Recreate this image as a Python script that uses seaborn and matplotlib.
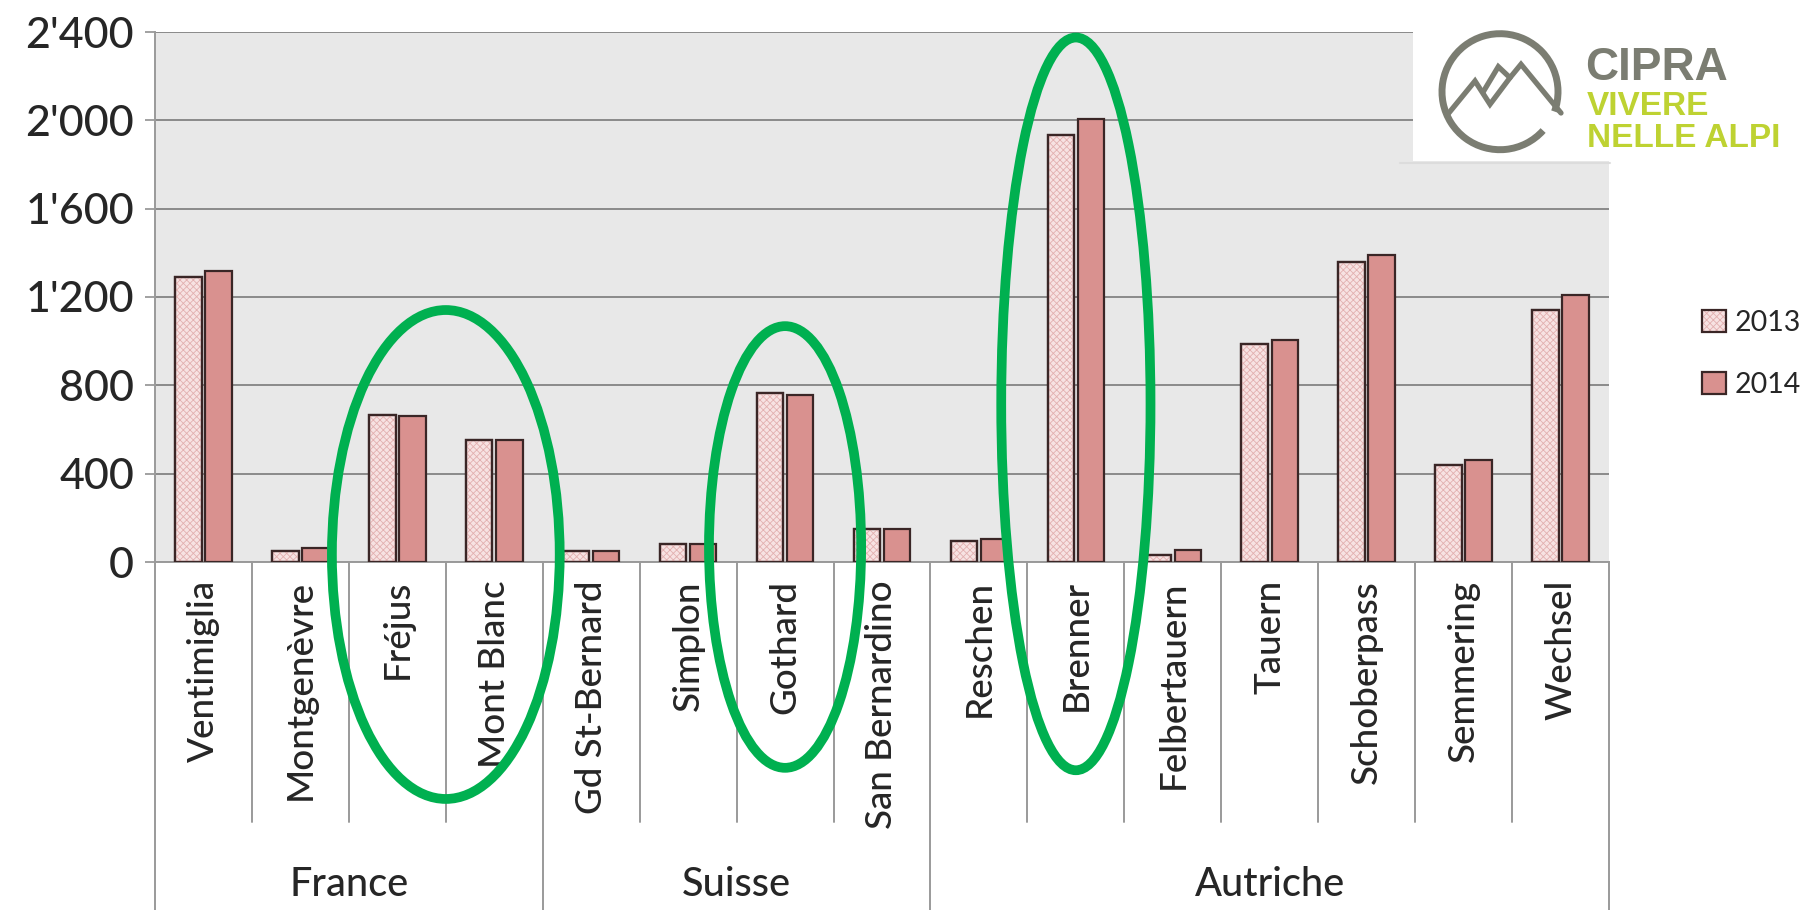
import numpy as np
import pandas as pd
import matplotlib
matplotlib.use("Agg")
import matplotlib.pyplot as plt
import seaborn as sns
from matplotlib.patches import Rectangle, Ellipse, Arc, Patch
from matplotlib.lines import Line2D
from matplotlib.legend_handler import HandlerTuple
from matplotlib.ticker import FuncFormatter
from matplotlib.colors import to_rgb

# ---- data -------------------------------------------------------------
passes = ["Ventimiglia", "Montgenèvre", "Fréjus", "Mont Blanc",
          "Gd St-Bernard", "Simplon", "Gothard", "San Bernardino",
          "Reschen", "Brenner", "Felbertauern", "Tauern", "Schoberpass",
          "Semmering", "Wechsel"]
countries = ["France", "Suisse", "Autriche"]
passes_per_country = [4, 4, 7]
years = ["2013", "2014"]
values_2013 = [1290, 50, 664, 553, 52, 81, 765, 151, 95, 1935, 32, 989, 1358, 441, 1143]
values_2014 = [1320, 62, 661, 553, 52, 81, 755, 151, 106, 2006, 53, 1007, 1389, 463, 1211]
y_ticks = [0, 400, 800, 1200, 1600, 2000, 2400]
highlighted = [["Fréjus", "Mont Blanc"], ["Gothard"], ["Brenner"]]

# ---- style ------------------------------------------------------------
sns.set_style("white")
plt.rcParams["font.family"] = ["Lato", "DejaVu Sans"]
plt.rcParams["hatch.linewidth"] = 0.6

C13 = "#f7e2e2"
C14 = "#d9918f"
HATCH = "#e2b0b0"
EDGE = "#3a2626"
AXIS_GREY = "#9a9a9a"
GRID_GREY = "#8a8a8a"
TEXT = "#262626"
GREEN = "#00b050"

W, H = 1802, 910
fig = plt.figure(figsize=(W / 100, H / 100), dpi=100)
ax_left, ax_right, ax_top, ax_base = 155, 1609, 32, 562
ax = fig.add_axes([ax_left / W, 1 - ax_base / H,
                   (ax_right - ax_left) / W, (ax_base - ax_top) / H])

df = pd.DataFrame({
    "Passage": passes * 2,
    "Année": [years[0]] * len(passes) + [years[1]] * len(passes),
    "Camions": values_2013 + values_2014,
})

sns.barplot(data=df, x="Passage", y="Camions", hue="Année",
            order=passes, hue_order=years, palette=[C13, C14],
            saturation=1, width=0.62, gap=0.12, errorbar=None,
            edgecolor=EDGE, linewidth=1.6, legend=False, ax=ax, zorder=3)

# dotted pattern on the 2013 bars, outline redrawn on top
for bar in list(ax.patches):
    if np.allclose(bar.get_facecolor()[:3], to_rgb(C13), atol=0.01):
        x, y = bar.get_xy()
        w, h = bar.get_width(), bar.get_height()
        ax.add_patch(Rectangle((x, y), w, h, fill=False, hatch="xxxxx",
                               edgecolor=HATCH, lw=0, zorder=3.5))
        ax.add_patch(Rectangle((x, y), w, h, fill=False,
                               edgecolor=EDGE, lw=1.6, zorder=3.6))

# ---- axes -------------------------------------------------------------
ax.set_facecolor("#e8e8e8")
ax.set_xlim(-0.5, len(passes) - 0.5)
ax.set_ylim(y_ticks[0], y_ticks[-1])
ax.set_yticks(y_ticks)
ax.yaxis.set_major_formatter(
    FuncFormatter(lambda v, p: f"{int(v):,}".replace(",", "'")))
ax.grid(axis="y", color=GRID_GREY, lw=1.4)
ax.grid(axis="x", visible=False)
ax.set_axisbelow(True)
for s in ["top", "right"]:
    ax.spines[s].set_visible(False)
for s in ["left", "bottom"]:
    ax.spines[s].set_color(AXIS_GREY)
    ax.spines[s].set_linewidth(1.4)
ax.tick_params(axis="y", length=7, width=1.3, color=AXIS_GREY, pad=8,
               labelsize=31, labelcolor=TEXT, left=True)
ax.tick_params(axis="x", length=0, pad=13, labelsize=26.5,
               labelcolor=TEXT, labelrotation=90)
for lab in ax.get_xticklabels() + ax.get_yticklabels():
    lab.set_fontweight(500)
ax.set_xlabel("")
ax.set_ylabel("")

# category separators and country groups below the axis
xtr = ax.get_xaxis_transform()
ax_h_px = ax_base - ax_top
fig_bottom = -(H - ax_base) / ax_h_px
inner_bottom = -(822 - ax_base) / ax_h_px
group_edges = list(np.cumsum([0] + passes_per_country) - 0.5)
for b in np.arange(-0.5, len(passes), 1.0):
    low = fig_bottom if b in group_edges else inner_bottom
    ax.add_line(Line2D([b, b], [0, low], transform=xtr, color=AXIS_GREY,
                       lw=1.4, clip_on=False))
for name, lo, hi in zip(countries, group_edges[:-1], group_edges[1:]):
    ax.text((lo + hi) / 2, -(885 - ax_base) / ax_h_px, name, transform=xtr,
            ha="center", va="center", fontsize=28.5, fontweight=500,
            color=TEXT)

# green highlight rings
ring_shapes = [(2.35, 34, 2214), (1.57, 68, 2000), (1.54, 716, 3318)]
for group, (rw, yc, rh) in zip(highlighted, ring_shapes):
    xc = np.mean([passes.index(p) for p in group])
    ax.add_patch(Ellipse((xc, yc), rw, rh, fill=False, edgecolor=GREEN,
                         lw=7, clip_on=False, zorder=6))

# ---- legend -----------------------------------------------------------
h13 = (Patch(facecolor=C13, hatch="xxxxx", edgecolor=HATCH, lw=0),
       Patch(facecolor="none", edgecolor=EDGE, lw=1.6))
h14 = Patch(facecolor=C14, edgecolor=EDGE, lw=1.6)
fig.legend(handles=[h13, h14], labels=years,
           handler_map={tuple: HandlerTuple(ndivide=1)},
           loc="center left", bbox_to_anchor=(1702 / W, 1 - 354 / H),
           frameon=False, fontsize=20.5, labelcolor=TEXT,
           handlelength=0.85, handleheight=0.8, handletextpad=0.3,
           labelspacing=1.25, borderpad=0, borderaxespad=0)

# ---- CIPRA logo -------------------------------------------------------
ov = fig.add_axes([0, 0, 1, 1], zorder=10)
ov.set_xlim(0, W)
ov.set_ylim(0, H)
ov.axis("off")
ov.add_patch(Rectangle((1413, H - 161), W - 1413, 161,
                       facecolor="white", edgecolor="none"))
ov.plot([1400, 1610], [H - 163, H - 163], color="#dcdcdc", lw=1.5)
LOGO_GREY = "#7b7d72"
ov.add_patch(Arc((1500, H - 91.7), 116, 116, theta1=-20, theta2=318,
                 color=LOGO_GREY, lw=5))
mx = [1448, 1475, 1490, 1510, 1521, 1561]
my = [114, 81, 104.3, 77.7, 64.3, 113]
ov.plot(mx, [H - v for v in my], color=LOGO_GREY, lw=3.8,
        solid_joinstyle="miter")
dx = [1483.3, 1498.3, 1510]
dy = [91.7, 66.7, 77.7]
ov.plot(dx, [H - v for v in dy], color=LOGO_GREY, lw=3.8,
        solid_joinstyle="miter")
ov.text(1585, H - 80, "CIPRA", fontsize=33, fontweight="bold",
        family="Liberation Sans", color=LOGO_GREY, ha="left", va="baseline")
ov.text(1587, H - 115, "VIVERE", fontsize=24, fontweight="bold",
        family="Liberation Sans", color="#bed232", ha="left", va="baseline")
ov.text(1587, H - 147, "NELLE ALPI", fontsize=24, fontweight="bold",
        family="Liberation Sans", color="#bed232", ha="left", va="baseline")

fig.savefig("out.png", dpi=100, facecolor="white")
